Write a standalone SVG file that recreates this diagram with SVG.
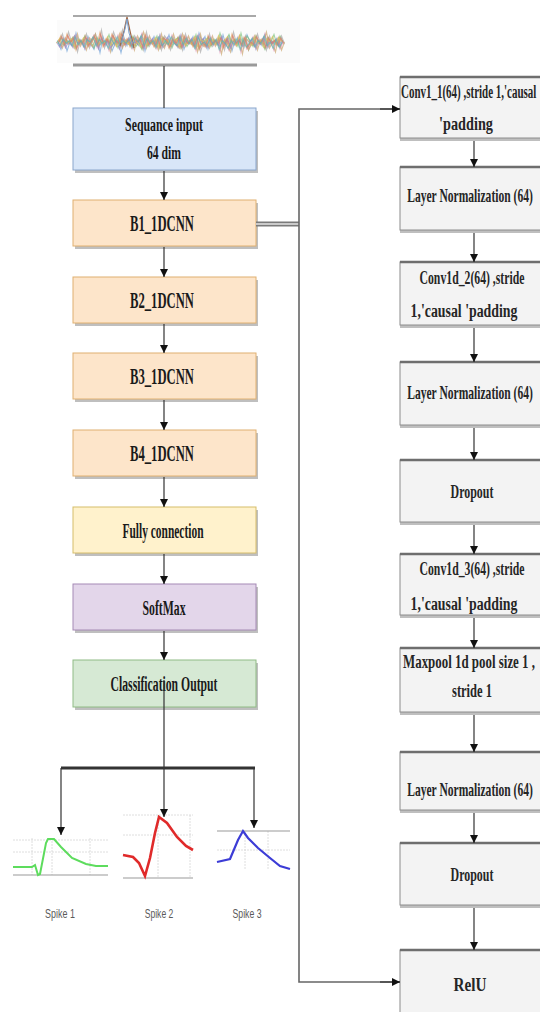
<svg xmlns="http://www.w3.org/2000/svg" width="540" height="1012" viewBox="0 0 540 1012">
<style>
.lbl{font-family:"Liberation Serif",serif;font-weight:bold;fill:#1a1a1a;text-anchor:middle}
.rlbl{font-family:"Liberation Serif",serif;font-weight:bold;fill:#262626;text-anchor:middle;font-size:19px}
.slbl{font-family:"Liberation Sans",sans-serif;fill:#5a5a5a;text-anchor:middle;font-size:13px}
.conn{stroke:#333;stroke-width:1.2;fill:none}
.shd{fill:#8a8a8a;opacity:0.55}
.rbox{fill:#f3f3f3;stroke:#8c8c8c;stroke-width:1}
.rtop{stroke:#6e6e6e;stroke-width:2.5}
.grid{stroke:#d6d6d6;stroke-width:0.8;fill:none}
.axis{stroke:#9a9a9a;stroke-width:1.2}
.noise{fill:none;stroke-width:1;opacity:0.7}
</style>
<defs>
<marker id="arr" markerUnits="userSpaceOnUse" markerWidth="9" markerHeight="8" refX="8" refY="4" orient="auto">
<path d="M0,0 L8,4 L0,8 z" fill="#111"/>
</marker>
<path id="nz" d="M58,42 l3,-4 3,6 3,-7 3,5 3,-3 3,8 3,-6 3,2 3,-5 3,7 3,-4 3,-3 3,6 3,-8 3,9 3,-5 3,3 3,-6 3,4 3,2 3,-7 3,8 3,-4 3,5 3,-6 3,3 3,-2 3,6 3,-9 3,7 3,-3 3,4 3,-5 3,6 3,-7 3,2 3,5 3,-6 3,3 3,-4 3,7 3,-8 3,5 3,-2 3,4 3,-6 3,8 3,-5 3,3 3,-7 3,6 3,-3 3,2 3,-4 3,7 3,-6 3,5 3,-8 3,6 3,-2 3,3 3,-5 3,7 3,-4 3,2 3,-6 3,5 3,-3 3,6 3,-7 3,4 3,-2 3,3 3,-5 3,4"/>
</defs>
<rect width="540" height="1012" fill="#ffffff"/>

<g id="signal">
<rect x="57" y="20" width="243" height="43" fill="#fbfbfb"/>
<line x1="73" y1="16" x2="256" y2="16" stroke="#555" stroke-width="1.2"/>
<use href="#nz" class="noise" stroke="#e39a5a" transform="matrix(1,0,0,1.6,0,-25.2)"/>
<use href="#nz" class="noise" stroke="#6d9fd6" transform="matrix(1,0,0,-1.8,0,117.6)"/>
<use href="#nz" class="noise" stroke="#7cc27c" transform="matrix(-1,0,0,1.5,341,-21)"/>
<use href="#nz" class="noise" stroke="#e58fb6" transform="matrix(-1,0,0,-1.7,341,113.4)"/>
<use href="#nz" class="noise" stroke="#a8a8a8" transform="matrix(1,0,0,2,1.5,-42)"/>
<use href="#nz" class="noise" stroke="#c9a46c" transform="matrix(-1,0,0,-2,342.5,126)"/>
<use href="#nz" class="noise" stroke="#9b83c9" transform="matrix(1,0,0,-1.2,-1.5,92.4)"/>
<use href="#nz" class="noise" stroke="#d9c25a" transform="matrix(-1,0,0,1.1,339.5,-4.2)"/>
<use href="#nz" class="noise" stroke="#e07a6a" transform="matrix(1,0,0,1.3,0.8,-12.6)"/>
<use href="#nz" class="noise" stroke="#58b8b0" transform="matrix(-1,0,0,-1.3,340.2,96.6)"/>
<path d="M120,46 L124,31 L127,17 L130,31 L134,48" fill="none" stroke="#a06a4a" stroke-width="1.2"/>
<path d="M121,43 L125,29 L127,19 L129,33 L133,44" fill="none" stroke="#7a9fcc" stroke-width="1"/>
<line x1="73" y1="65" x2="257" y2="65" stroke="#9a9a9a" stroke-width="3"/>
</g>

<g id="seq-input">
<rect class="shd" x="75" y="111" width="183" height="62"/>
<rect x="73" y="108" width="183" height="62" fill="#d8e6f8" stroke="#8aa6cc" stroke-width="1"/>
<text class="lbl" font-size="19" transform="translate(164,131) scale(0.623,1)">Sequance input</text>
<text class="lbl" font-size="19" transform="translate(164,159) scale(0.614,1)">64 dim</text>
</g>

<g id="b1">
<rect class="shd" x="75" y="203" width="183" height="46"/>
<rect x="73" y="200" width="183" height="46" fill="#fde5ca" stroke="#e0b070" stroke-width="1"/>
<text class="lbl" font-size="23" transform="translate(162,231) scale(0.55,1)">B1_1DCNN</text>
</g>
<g id="b2">
<rect class="shd" x="75" y="280" width="183" height="46"/>
<rect x="73" y="277" width="183" height="46" fill="#fde5ca" stroke="#e0b070" stroke-width="1"/>
<text class="lbl" font-size="23" transform="translate(162,308) scale(0.55,1)">B2_1DCNN</text>
</g>
<g id="b3">
<rect class="shd" x="75" y="356" width="183" height="46"/>
<rect x="73" y="353" width="183" height="46" fill="#fde5ca" stroke="#e0b070" stroke-width="1"/>
<text class="lbl" font-size="23" transform="translate(162,384) scale(0.55,1)">B3_1DCNN</text>
</g>
<g id="b4">
<rect class="shd" x="75" y="433" width="183" height="46"/>
<rect x="73" y="430" width="183" height="46" fill="#fde5ca" stroke="#e0b070" stroke-width="1"/>
<text class="lbl" font-size="23" transform="translate(162,461) scale(0.55,1)">B4_1DCNN</text>
</g>
<g id="fc">
<rect class="shd" x="75" y="510" width="183" height="46"/>
<rect x="73" y="507" width="183" height="46" fill="#fff2cc" stroke="#d6bd6a" stroke-width="1"/>
<text class="lbl" font-size="20" transform="translate(163,538) scale(0.572,1)">Fully connection</text>
</g>
<g id="softmax">
<rect class="shd" x="75" y="587" width="183" height="46"/>
<rect x="73" y="584" width="183" height="46" fill="#e3d6ea" stroke="#a58ab5" stroke-width="1"/>
<text class="lbl" font-size="20" transform="translate(164,615) scale(0.587,1)">SoftMax</text>
</g>
<g id="class-out">
<rect class="shd" x="75" y="663" width="183" height="47"/>
<rect x="73" y="660" width="183" height="47" fill="#d6e9d4" stroke="#90bb85" stroke-width="1"/>
<text class="lbl" font-size="20" transform="translate(164,691) scale(0.585,1)">Classification Output</text>
</g>

<g id="r1">
<rect class="shd" x="400" y="80" width="150" height="61"/>
<rect class="rbox" x="400" y="77" width="150" height="61"/>
<line class="rtop" x1="400" y1="77" x2="540" y2="77"/>
<text class="rlbl" style="text-anchor:start" transform="translate(401,98) scale(0.578,1)">Conv1_1(64) ,stride 1,'causal</text>
<text class="rlbl" transform="translate(466,130) scale(0.75,1)">'padding</text>
</g>
<g id="r2">
<rect class="shd" x="400" y="170" width="150" height="63"/>
<rect class="rbox" x="400" y="167" width="150" height="63"/>
<line class="rtop" x1="400" y1="167" x2="540" y2="167"/>
<text class="rlbl" transform="translate(470,202) scale(0.609,1)">Layer Normalization (64)</text>
</g>
<g id="r3">
<rect class="shd" x="400" y="265" width="150" height="63"/>
<rect class="rbox" x="400" y="262" width="150" height="63"/>
<line class="rtop" x1="400" y1="262" x2="540" y2="262"/>
<text class="rlbl" transform="translate(472,284) scale(0.618,1)">Conv1d_2(64) ,stride</text>
<text class="rlbl" transform="translate(464,317) scale(0.729,1)">1,'causal 'padding</text>
</g>
<g id="r4">
<rect class="shd" x="400" y="365" width="150" height="63"/>
<rect class="rbox" x="400" y="362" width="150" height="63"/>
<line class="rtop" x1="400" y1="362" x2="540" y2="362"/>
<text class="rlbl" transform="translate(470,399) scale(0.609,1)">Layer Normalization (64)</text>
</g>
<g id="r5">
<rect class="shd" x="400" y="463" width="150" height="62"/>
<rect class="rbox" x="400" y="460" width="150" height="62"/>
<line class="rtop" x1="400" y1="460" x2="540" y2="460"/>
<text class="rlbl" transform="translate(472,498) scale(0.627,1)">Dropout</text>
</g>
<g id="r6">
<rect class="shd" x="400" y="557" width="150" height="61"/>
<rect class="rbox" x="400" y="554" width="150" height="61"/>
<line class="rtop" x1="400" y1="554" x2="540" y2="554"/>
<text class="rlbl" transform="translate(472,575) scale(0.618,1)">Conv1d_3(64) ,stride</text>
<text class="rlbl" transform="translate(464,610) scale(0.729,1)">1,'causal 'padding</text>
</g>
<g id="r7">
<rect class="shd" x="400" y="651" width="150" height="64"/>
<rect class="rbox" x="400" y="648" width="150" height="64"/>
<line class="rtop" x1="400" y1="648" x2="540" y2="648"/>
<text class="rlbl" transform="translate(469,668) scale(0.68,1)">Maxpool 1d pool size 1 ,</text>
<text class="rlbl" transform="translate(472,697) scale(0.659,1)">stride 1</text>
</g>
<g id="r8">
<rect class="shd" x="400" y="755" width="150" height="58"/>
<rect class="rbox" x="400" y="752" width="150" height="58"/>
<line class="rtop" x1="400" y1="752" x2="540" y2="752"/>
<text class="rlbl" transform="translate(470,796) scale(0.609,1)">Layer Normalization (64)</text>
</g>
<g id="r9">
<rect class="shd" x="400" y="846" width="150" height="62"/>
<rect class="rbox" x="400" y="843" width="150" height="62"/>
<line class="rtop" x1="400" y1="843" x2="540" y2="843"/>
<text class="rlbl" transform="translate(472,881) scale(0.627,1)">Dropout</text>
</g>
<g id="r10">
<rect class="rbox" x="400" y="950" width="150" height="70"/>
<line class="rtop" x1="400" y1="950" x2="540" y2="950"/>
<text class="rlbl" transform="translate(470,991) scale(0.8,1)">RelU</text>
</g>

<g id="spike1">
<path class="grid" d="M13,840 H108 M13,852 H108 M32,838 V875 M52,838 V875 M90,838 V875" stroke-dasharray="2,1"/>
<line class="axis" x1="13" y1="875" x2="108" y2="875"/>
<path d="M13,867 L32,867 L35,865 L38,875 L40,874 L46,843 L48,839 L54,839 L61,847 L72,858 L86,864 L96,866 L108,866" fill="none" stroke="#5ddc5d" stroke-width="2"/>
<text class="slbl" transform="translate(60,918) scale(0.69,1)">Spike 1</text>
</g>
<g id="spike2">
<path class="grid" d="M123,815 H193 M123,835 H193 M158,815 V878 M190,815 V878" stroke-dasharray="2,1"/>
<line class="axis" x1="123" y1="878" x2="193" y2="878"/>
<path d="M123,855 L133,857 L139,863 L145,876 L150,858 L155,833 L159,817 L167,823 L177,837 L186,846 L193,850" fill="none" stroke="#e02a2a" stroke-width="2.6"/>
<text class="slbl" transform="translate(159,918) scale(0.66,1)">Spike 2</text>
</g>
<g id="spike3">
<path class="grid" d="M217,850 H290 M245,831 V870 M268,831 V870" stroke-dasharray="2,1"/>
<line class="axis" x1="217" y1="831" x2="290" y2="831"/>
<path d="M217,862 L230,859 L238,840 L243,831 L248,838 L258,848 L270,858 L280,866 L290,869" fill="none" stroke="#3c3cd6" stroke-width="2.2"/>
<text class="slbl" transform="translate(247,918) scale(0.67,1)">Spike 3</text>
</g>

<g id="connectors">
<line class="conn" x1="164" y1="66" x2="164" y2="108"/>
<line class="conn" x1="164" y1="171" x2="164" y2="200" marker-end="url(#arr)"/>
<line class="conn" x1="164" y1="247" x2="164" y2="277" marker-end="url(#arr)"/>
<line class="conn" x1="164" y1="324" x2="164" y2="353" marker-end="url(#arr)"/>
<line class="conn" x1="164" y1="400" x2="164" y2="430" marker-end="url(#arr)"/>
<line class="conn" x1="164" y1="477" x2="164" y2="507" marker-end="url(#arr)"/>
<line class="conn" x1="164" y1="554" x2="164" y2="584" marker-end="url(#arr)"/>
<line class="conn" x1="164" y1="631" x2="164" y2="660" marker-end="url(#arr)"/>
<line class="conn" x1="164" y1="680" x2="164" y2="817" marker-end="url(#arr)"/>
<path d="M61,768 H255" stroke="#333" stroke-width="2.8" fill="none"/>
<line class="conn" x1="61" y1="768" x2="61" y2="835" marker-end="url(#arr)"/>
<line class="conn" x1="254" y1="768" x2="254" y2="828" marker-end="url(#arr)"/>
<path d="M256,224 H299" stroke="#7a7a7a" stroke-width="5" fill="none"/>
<path d="M256,224 H299" stroke="#e6e6e6" stroke-width="1.4" fill="none"/>
<path d="M400,109 H299 V982 H400" stroke="#666" stroke-width="1.6" fill="none"/>
<line class="conn" x1="380" y1="109" x2="400" y2="109" marker-end="url(#arr)"/>
<line class="conn" x1="380" y1="982" x2="400" y2="982" marker-end="url(#arr)"/>
<line class="conn" x1="474" y1="141" x2="474" y2="167" marker-end="url(#arr)"/>
<line class="conn" x1="474" y1="233" x2="474" y2="262" marker-end="url(#arr)"/>
<line class="conn" x1="474" y1="328" x2="474" y2="362" marker-end="url(#arr)"/>
<line class="conn" x1="474" y1="428" x2="474" y2="460" marker-end="url(#arr)"/>
<line class="conn" x1="474" y1="525" x2="474" y2="554" marker-end="url(#arr)"/>
<line class="conn" x1="474" y1="618" x2="474" y2="648" marker-end="url(#arr)"/>
<line class="conn" x1="474" y1="715" x2="474" y2="752" marker-end="url(#arr)"/>
<line class="conn" x1="474" y1="813" x2="474" y2="843" marker-end="url(#arr)"/>
<line class="conn" x1="474" y1="908" x2="474" y2="950" marker-end="url(#arr)"/>
</g>
</svg>
